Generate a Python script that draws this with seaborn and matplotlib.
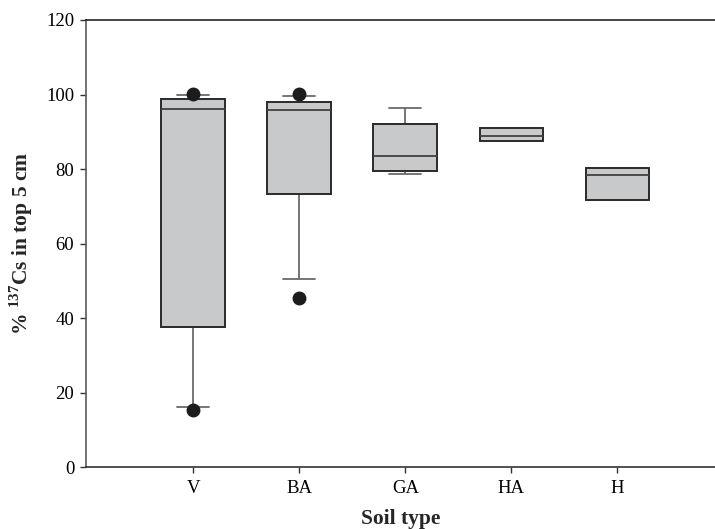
import numpy as np
import pandas as pd
import matplotlib
matplotlib.use("Agg")
import matplotlib.pyplot as plt
import seaborn as sns

# Soil types and the samples (% 137Cs in top 5 cm)
categories = ["V", "BA", "GA", "HA", "H"]
v_vals = [15.4, 16.3, 37.6, 80.0, 96.1, 97.5, 98.8, 99.9, 100.2]
ba_vals = [45.5, 50.6, 73.4, 88.0, 95.9, 97.0, 98.0, 99.5, 100.1]
ga_vals = [78.7, 78.7, 79.4, 81.0, 83.6, 88.0, 92.2, 96.4, 96.4]
ha_vals = [87.6, 87.6, 87.6, 88.2, 88.8, 90.0, 91.0, 91.0, 91.0]
h_vals = [71.8, 71.8, 71.8, 75.0, 78.5, 79.5, 80.3, 80.3, 80.3]
y_ticks = [0, 20, 40, 60, 80, 100, 120]

groups = [v_vals, ba_vals, ga_vals, ha_vals, h_vals]
df = pd.DataFrame({
    "soil": np.repeat(categories, [len(g) for g in groups]),
    "value": np.concatenate(groups),
})

sns.set_style("ticks")
plt.rcParams["font.family"] = ["Liberation Serif", "DejaVu Serif"]
plt.rcParams["mathtext.fontset"] = "custom"
plt.rcParams["mathtext.rm"] = "Liberation Serif"
plt.rcParams["mathtext.bf"] = "Liberation Serif:bold"

fig = plt.figure(figsize=(7.15, 5.29), dpi=100)
ax = fig.add_axes([86 / 715, 1 - 467.3 / 529, 1 - 86 / 715, (467.3 - 20) / 529])

sns.boxplot(
    data=df, x="soil", y="value", order=categories, ax=ax,
    width=0.6, whis=(10, 90), color="#c8c9cb", saturation=1,
    linewidth=1.3,
    boxprops=dict(edgecolor="#2a2a2a", linewidth=1.4, zorder=2),
    medianprops=dict(color="#404040", linewidth=1.3, zorder=3),
    whiskerprops=dict(color="#6a6a6a", linewidth=1.3, zorder=1),
    capprops=dict(color="#6a6a6a", linewidth=1.3, zorder=1),
    flierprops=dict(marker="o", markerfacecolor="#1c1c1c",
                    markeredgecolor="#1c1c1c", markersize=9, zorder=4),
)

ax.set_xlim(-1.01, 4.92)
ax.set_ylim(0, 120)
ax.set_yticks(y_ticks)
ax.set_xlabel("Soil type", fontsize=15.5, fontweight="bold", labelpad=8)
ax.set_ylabel(r"% $^{\mathbf{137}}$Cs in top 5 cm", fontsize=15.5,
              fontweight="bold", labelpad=8)
ax.tick_params(axis="both", labelsize=13.5, direction="out",
               length=4.5, width=1, colors="#333333", labelcolor="black")
ax.tick_params(axis="y", pad=4)
ax.tick_params(axis="x", pad=5)

for side in ["left", "bottom", "top"]:
    ax.spines[side].set_visible(True)
    ax.spines[side].set_linewidth(1.2)
ax.spines["left"].set_color("#5a5a5a")
ax.spines["bottom"].set_color("#333333")
ax.spines["top"].set_color("#222222")
ax.spines["right"].set_visible(False)

fig.savefig("out.png", dpi=100)
